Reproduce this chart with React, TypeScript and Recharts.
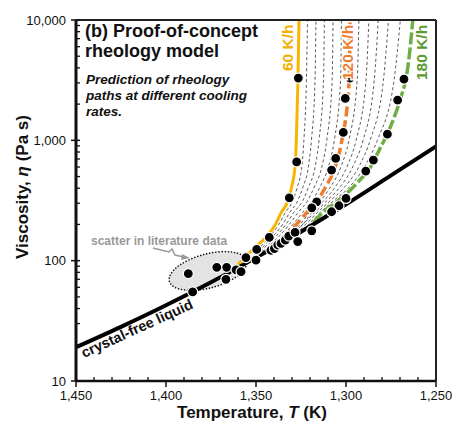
import React from "react";
import { ComposedChart, Line, Scatter, XAxis, YAxis } from "recharts";

// crystal-free liquid
const LIQUID_T = [1450, 1425, 1400, 1375, 1350, 1325, 1300, 1275, 1250];
const LIQUID_V = [19.1, 28.2, 42.6, 66.2, 106, 174, 294, 511, 890];

// highlighted cooling paths
const RATE_60_T = [1360, 1351.2, 1344.2, 1339.2, 1336, 1332.2, 1330.4, 1328.2, 1327.6, 1326.7, 1326.1];
const RATE_60_V = [93, 126, 158, 200, 251, 316, 398, 631, 1000, 3162, 10000];
const RATE_120_T = [1341.1, 1334, 1327.6, 1321.9, 1315.9, 1311.8, 1305.6, 1302.3, 1298.2, 1297.8];
const RATE_120_V = [135, 158, 200, 251, 316, 398, 631, 1000, 3162, 10000];
const RATE_180_T = [1318, 1313.3, 1306.1, 1298.7, 1293.2, 1285.7, 1281.1, 1276.5, 1272.8, 1269.1, 1266.3, 1264.4, 1262.9];
const RATE_180_V = [208, 248, 301, 373, 452, 623, 857, 1177, 1620, 2375, 3480, 5800, 10000];

// thin dashed paths, 70-110 and 130-170 K/h
const RATE_70_T = [1356.3, 1342.5, 1337.3, 1333.7, 1329.5, 1327.3, 1324.4, 1323.4, 1322, 1321.4];
const RATE_70_V = [99, 158, 200, 251, 316, 398, 631, 1000, 3162, 10000];
const RATE_80_T = [1353.1, 1340.8, 1335.3, 1331.3, 1326.8, 1324.2, 1320.7, 1319.2, 1317.2, 1316.7];
const RATE_80_V = [105, 158, 200, 251, 316, 398, 631, 1000, 3162, 10000];
const RATE_90_T = [1349.9, 1339.1, 1333.4, 1329, 1324, 1321.1, 1316.9, 1315, 1312.5, 1312];
const RATE_90_V = [112, 158, 200, 251, 316, 398, 631, 1000, 3162, 10000];
const RATE_100_T = [1346.6, 1337.4, 1331.5, 1326.6, 1321.3, 1318, 1313.1, 1310.7, 1307.7, 1307.2];
const RATE_100_V = [119, 158, 200, 251, 316, 398, 631, 1000, 3162, 10000];
const RATE_110_T = [1343.5, 1335.7, 1329.5, 1324.2, 1318.6, 1314.9, 1309.4, 1306.5, 1303, 1302.5];
const RATE_110_V = [127, 158, 200, 251, 316, 398, 631, 1000, 3162, 10000];
const RATE_130_T = [1336.4, 1325.5, 1320.4, 1314.1, 1309.2, 1302.3, 1298.4, 1293.8, 1292.8];
const RATE_130_V = [145, 200, 251, 316, 398, 631, 1000, 3162, 10000];
const RATE_140_T = [1332.8, 1324, 1318.9, 1312.3, 1306.6, 1298.9, 1294.4, 1288.9, 1287.3];
const RATE_140_V = [156, 200, 251, 316, 398, 631, 1000, 3162, 10000];
const RATE_150_T = [1329, 1317.4, 1310.5, 1304, 1295.6, 1290.5, 1284.3, 1282.1];
const RATE_150_V = [168, 251, 316, 398, 631, 1000, 3162, 10000];
const RATE_160_T = [1325.2, 1315.9, 1308.6, 1301.5, 1292.2, 1286.6, 1279.2, 1276.4];
const RATE_160_V = [181, 251, 316, 398, 631, 1000, 3162, 10000];
const RATE_170_T = [1321.6, 1314.4, 1306.8, 1298.9, 1288.9, 1282.6, 1273.3, 1269.8];
const RATE_170_V = [194, 251, 316, 398, 631, 1000, 3162, 10000];

// measured points
const DOT_T = [
  1326.5, 1297.8, 1267.8, 1300.4, 1271.3, 1301.5, 1277, 1327.4, 1305.7, 1284.8, 1308, 1289,
  1331.5, 1300, 1316.3, 1319, 1303.9, 1308,
  1387.6, 1385.2, 1371.8, 1366.3, 1366.7, 1361.1, 1358.3, 1355.6, 1350, 1349.6, 1342.6, 1341.7,
  1339.8, 1337.9, 1336.1, 1333.7, 1331.8, 1328.3, 1326.8, 1319,
];
const DOT_V = [
  3290, 3290, 3220, 2230, 2160, 1164, 1125, 662, 707, 686, 566, 555,
  333, 329, 308, 275, 286, 255,
  78, 55, 88, 88, 70, 84, 81, 106, 101, 124, 156, 122,
  126, 135, 139, 148, 160, 172, 144, 177,
];

const X_TICKS = [1450, 1440, 1430, 1420, 1410, 1400, 1390, 1380, 1370, 1360, 1350, 1340, 1330, 1320, 1310, 1300, 1290, 1280, 1270, 1260, 1250];
const Y_TICKS = [10, 20, 30, 40, 50, 60, 70, 80, 90, 100, 200, 300, 400, 500, 600, 700, 800, 900, 1000, 2000, 3000, 4000, 5000, 6000, 7000, 8000, 9000, 10000];
const Y_MAJOR = [10, 100, 1000, 10000];

const FONT = "'Liberation Sans', Arial, Helvetica, sans-serif";

const zip = (t: number[], v: number[]) => t.map((T, i) => ({ T, v: v[i] }));

const DASHED = [
  zip(RATE_70_T, RATE_70_V),
  zip(RATE_80_T, RATE_80_V),
  zip(RATE_90_T, RATE_90_V),
  zip(RATE_100_T, RATE_100_V),
  zip(RATE_110_T, RATE_110_V),
  zip(RATE_130_T, RATE_130_V),
  zip(RATE_140_T, RATE_140_V),
  zip(RATE_150_T, RATE_150_V),
  zip(RATE_160_T, RATE_160_V),
  zip(RATE_170_T, RATE_170_V),
];

const fmt = (v: number) => v.toLocaleString("en-US");

const XTick = (props: any) => {
  const { x, y, payload } = props;
  const v = payload.value;
  if (v % 50 !== 0) {
    return <line x1={x} x2={x} y1={y} y2={y - 4} stroke="#111" strokeWidth={1.3} />;
  }
  return (
    <g>
      <line x1={x} x2={x} y1={y} y2={y + 6} stroke="#111" strokeWidth={1.5} />
      <text x={x} y={y + 19} textAnchor="middle" fontSize={13} fontFamily={FONT} fill="#111">
        {fmt(v)}
      </text>
    </g>
  );
};

const YTick = (props: any) => {
  const { x, y, payload } = props;
  const v = payload.value;
  if (!Y_MAJOR.includes(v)) {
    return <line x1={x} x2={x + 4} y1={y} y2={y} stroke="#111" strokeWidth={1.3} />;
  }
  return (
    <g>
      <line x1={x - 5} x2={x + 4} y1={y} y2={y} stroke="#111" strokeWidth={1.5} />
      <text x={x - 10} y={y + 4.5} textAnchor="end" fontSize={13} fontFamily={FONT} fill="#111">
        {fmt(v)}
      </text>
    </g>
  );
};

const Dot = (props: any) => (
  <circle cx={props.cx} cy={props.cy} r={5} fill="#000" stroke="#fff" strokeWidth={1.2} />
);

export default function App() {
  return (
    <div style={{ position: "absolute", left: 0, top: 0, width: 456, height: 424, background: "#fff" }}>
      <svg width={456} height={424} style={{ position: "absolute", left: 0, top: 0 }}>
        <ellipse
          cx={208}
          cy={271}
          rx={40}
          ry={17}
          transform="rotate(-15 208 271)"
          fill="#e3e3e3"
          stroke="#111"
          strokeWidth={1.6}
          strokeDasharray="0.1 3"
          strokeLinecap="round"
        />
      </svg>
      <div style={{ position: "absolute", left: 0, top: 0 }}>
        <ComposedChart width={456} height={424} margin={{ top: 19, right: 19, bottom: 42, left: 75 }}>
          <XAxis
            dataKey="T"
            type="number"
            domain={[1250, 1450]}
            allowDataOverflow
            reversed
            height={1}
            ticks={X_TICKS}
            interval={0}
            tick={<XTick />}
            tickLine={false}
            tickSize={0}
            tickMargin={0}
            axisLine={{ stroke: "#111", strokeWidth: 2.5 }}
          />
          <XAxis
            xAxisId="top"
            orientation="top"
            dataKey="T"
            type="number"
            domain={[1250, 1450]}
            reversed
            height={1}
            tick={false}
            tickLine={false}
            axisLine={{ stroke: "#222", strokeWidth: 2 }}
          />
          <YAxis
            type="number"
            scale="log"
            domain={[10, 10000]}
            allowDataOverflow
            width={1}
            ticks={Y_TICKS}
            interval={0}
            tick={<YTick />}
            tickLine={false}
            tickSize={0}
            tickMargin={0}
            axisLine={{ stroke: "#111", strokeWidth: 3 }}
          />
          <YAxis
            yAxisId="right"
            orientation="right"
            type="number"
            scale="log"
            domain={[10, 10000]}
            width={1}
            tick={false}
            tickLine={false}
            axisLine={{ stroke: "#222", strokeWidth: 2 }}
          />
          {DASHED.map((d, i) => (
            <Line
              key={i}
              data={d}
              dataKey="v"
              type="monotone"
              stroke="#333"
              strokeWidth={0.8}
              strokeDasharray="3 2.5"
              dot={false}
              isAnimationActive={false}
            />
          ))}
          <Line data={zip(RATE_60_T, RATE_60_V)} dataKey="v" type="monotone" stroke="#F7B500" strokeWidth={3} dot={false} isAnimationActive={false} />
          <Line data={zip(RATE_120_T, RATE_120_V)} dataKey="v" type="monotone" stroke="#EE7D31" strokeWidth={3.5} strokeDasharray="10 4" dot={false} isAnimationActive={false} />
          <Line data={zip(RATE_180_T, RATE_180_V)} dataKey="v" type="monotone" stroke="#70AD47" strokeWidth={3.5} strokeDasharray="12 3" dot={false} isAnimationActive={false} />
          <Line data={zip(LIQUID_T, LIQUID_V)} dataKey="v" type="monotone" stroke="#000" strokeWidth={4} dot={false} isAnimationActive={false} />
          <Scatter data={zip(DOT_T, DOT_V)} dataKey="v" shape={<Dot />} isAnimationActive={false} />
        </ComposedChart>
      </div>
      <svg width={456} height={424} style={{ position: "absolute", left: 0, top: 0, pointerEvents: "none" }} fontFamily={FONT}>
        <text x={85} y={37} fontSize={18} fontWeight="bold" fill="#111">(b) Proof-of-concept</text>
        <text x={85} y={57} fontSize={18} fontWeight="bold" fill="#111">rheology model</text>
        <g fontSize={13.5} fontWeight="bold" fontStyle="italic" fill="#111">
          <text x={86} y={84}>Prediction of rheology</text>
          <text x={86} y={100}>paths at different cooling</text>
          <text x={86} y={116}>rates.</text>
        </g>
        <text transform="translate(293,71) rotate(-90)" fontSize={15.5} fontWeight="bold" fill="#F4B000" stroke="#fff" strokeWidth={2} paintOrder="stroke">60 K/h</text>
        <text transform="translate(353,80) rotate(-90)" fontSize={15.5} fontWeight="bold" fill="#EE7D31" stroke="#fff" strokeWidth={3} paintOrder="stroke">120 K/h</text>
        <text transform="translate(427,80) rotate(-90)" fontSize={15.5} fontWeight="bold" fill="#5B9B2F" stroke="#fff" strokeWidth={2} paintOrder="stroke">180 K/h</text>
        <text transform="translate(84,358) rotate(-24.5)" fontSize={14.5} fontWeight="bold" fill="#111">crystal-free liquid</text>
        <text x={91} y={245} fontSize={12} fontWeight="bold" fill="#999">scatter in literature data</text>
        <path d="M153,248 L169,252 L172,249 L175,255 L184,257" fill="none" stroke="#999" strokeWidth={1.5} />
        <polygon points="190,258 182,254 181,260" fill="#999" />
        <text transform="translate(28,187) rotate(-90)" textAnchor="middle" fontSize={17} fontWeight="bold" fill="#111">
          Viscosity, <tspan fontStyle="italic">η</tspan> (Pa s)
        </text>
        <text x={252} y={418} textAnchor="middle" fontSize={17} fontWeight="bold" fill="#111">
          Temperature, <tspan fontStyle="italic">T</tspan> (K)
        </text>
      </svg>
    </div>
  );
}
